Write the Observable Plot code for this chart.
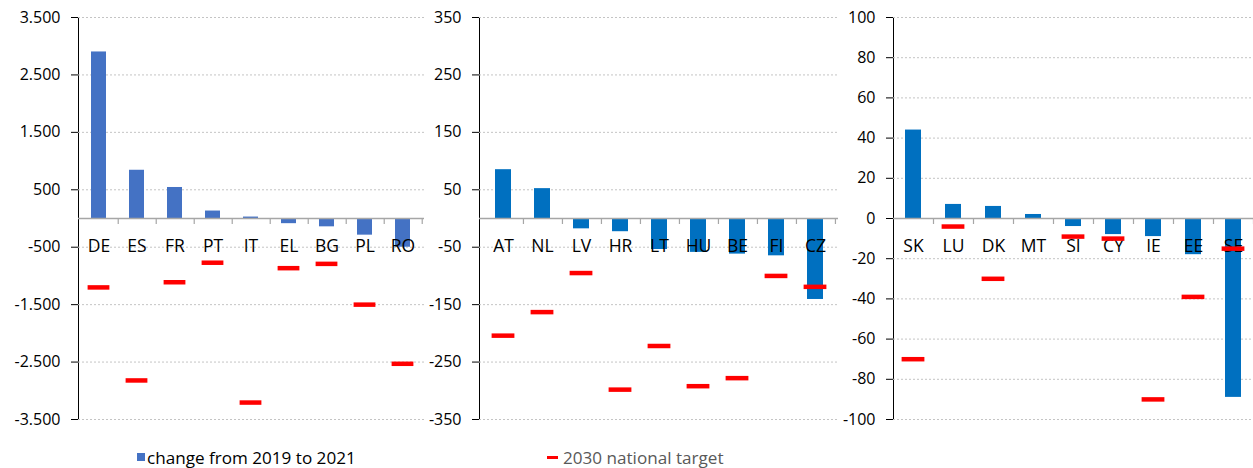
<!DOCTYPE html>
<html><head><meta charset="utf-8">
<script src="https://cdn.jsdelivr.net/npm/d3@7"></script>
<script src="https://cdn.jsdelivr.net/npm/@observablehq/plot@0.6"></script>
<style>
body{margin:0;background:#fff;font-family:"Open Sans",sans-serif;}
#wrap{position:relative;width:1253px;height:468px;overflow:hidden;background:#fff;}
.panel{position:absolute;top:0;}
.legend{position:absolute;top:446px;height:22px;font-size:17.1px;display:flex;align-items:center;white-space:nowrap;}
.sw{display:inline-block;}
</style></head><body><div id="wrap"></div>
<script>
// ---- data ----
const cats1 = ["DE","ES","FR","PT","IT","EL","BG","PL","RO"];
const change1 = [2900, 840, 540, 130, 25, -90, -145, -290, -500];
const target1 = [-1200, -2820, -1110, -770, -3205, -865, -790, -1500, -2530];
const ticks1 = [3500, 2500, 1500, 500, -500, -1500, -2500, -3500];
const tickLabels1 = ["3.500","2.500","1.500","500","-500","-1.500","-2.500","-3.500"];

const cats2 = ["AT","NL","LV","HR","LT","HU","BE","FI","CZ"];
const change2 = [85, 52, -18, -23, -54, -59, -62, -65, -141];
const target2 = [-204, -163, -95, -298, -222, -292, -278, -100, -119];
const ticks2 = [350, 250, 150, 50, -50, -150, -250, -350];
const tickLabels2 = ["350","250","150","50","-50","-150","-250","-350"];

const cats3 = ["SK","LU","DK","MT","SI","CY","IE","EE","SE"];
const change3 = [44, 7, 6, 2, -4, -8, -9, -18, -89];
const target3 = [-70, -4, -30, null, -9, -10, -90, -39, -15];
const ticks3 = [100, 80, 60, 40, 20, 0, -20, -40, -60, -80, -100];
const tickLabels3 = ["100","80","60","40","20","0","-20","-40","-60","-80","-100"];

const legendLabels = ["change from 2019 to 2021", "2030 national target"];

// ---- drawing ----
const wrap = document.getElementById("wrap");
const gray = "#a6a6a6";

function panel(cfg) {
  const data = cfg.cats.map((c, i) => ({cat: c, change: cfg.change[i], target: cfg.target[i]}));
  const innerW = cfg.width - cfg.marginLeft - cfg.marginRight;
  const half = innerW / cfg.cats.length / 2;
  const labelOf = new Map(cfg.ticks.map((t, i) => [t, cfg.labels[i]]));
  const plot = Plot.plot({
    width: cfg.width,
    height: 440,
    marginTop: 17,
    marginBottom: 21,
    marginLeft: cfg.marginLeft,
    marginRight: cfg.marginRight,
    style: {background: "transparent", overflow: "visible", fontFamily: "Open Sans", fontSize: "16px", color: "#000"},
    x: {type: "band", domain: cfg.cats, paddingInner: 0.6, paddingOuter: 0.3, axis: null},
    y: {domain: [d3.min(cfg.ticks), d3.max(cfg.ticks)], ticks: cfg.ticks, tickFormat: d => labelOf.get(d),
        tickSize: 7, tickPadding: 11, label: null, line: true},
    marks: [
      Plot.ruleY(cfg.ticks, {stroke: "#c4c4c4", strokeDasharray: "2,2"}),
      Plot.barY(data, {x: "cat", y: "change", fill: cfg.color}),
      Plot.ruleY([0], {stroke: gray, strokeWidth: 1.5}),
      Plot.ruleX(data, {x: "cat", y1: 0, y2: 0, insetBottom: -6, dx: half, stroke: gray, strokeWidth: 1.2}),
      Plot.text(data, {x: "cat", y: 0, text: "cat", dy: 28, fontSize: 17.5, fill: "#000"}),
      Plot.tickY(data.filter(d => d.target != null), {x: "cat", y: "target", stroke: "#ff0000", strokeWidth: 4.5, insetLeft: -3.4, insetRight: -3.4})
    ]
  });
  plot.classList.add("panel");
  plot.style.left = cfg.left + "px";
  // gray tick marks and axis line, black labels
  plot.querySelectorAll('[aria-label="y-axis"] line, [aria-label="y-axis"] path').forEach(el => {
    el.setAttribute("stroke", gray);
    el.setAttribute("stroke-width", "1.5");
  });
  wrap.appendChild(plot);
}

panel({cats: cats1, change: change1, target: target1, ticks: ticks1, labels: tickLabels1,
  color: "#4472c4", left: 0, width: 426, marginLeft: 78, marginRight: 2});
panel({cats: cats2, change: change2, target: target2, ticks: ticks2, labels: tickLabels2,
  color: "#0070c0", left: 420, width: 420, marginLeft: 59, marginRight: 2});
panel({cats: cats3, change: change3, target: target3, ticks: ticks3, labels: tickLabels3,
  color: "#0070c0", left: 840, width: 413, marginLeft: 53, marginRight: 0});

// legend
const l1 = document.createElement("div");
l1.className = "legend";
l1.style.left = "137px";
l1.innerHTML = `<span class="sw" style="width:8px;height:8px;background:#4472c4;margin-right:2px"></span><span style="color:#000">${legendLabels[0]}</span>`;
wrap.appendChild(l1);
const l2 = document.createElement("div");
l2.className = "legend";
l2.style.left = "547px";
l2.innerHTML = `<span class="sw" style="width:11px;height:3px;background:#ff0000;margin-right:5px"></span><span style="color:#595959">${legendLabels[1]}</span>`;
wrap.appendChild(l2);
</script></body></html>
